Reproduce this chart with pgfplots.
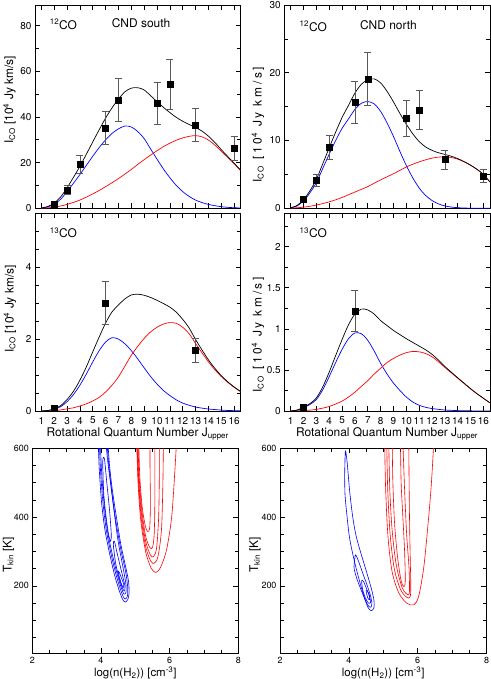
\documentclass[border=0pt]{standalone}
\usepackage{fontspec}
\setmainfont{TeX Gyre Heros}
\usepackage{pgfplots}
\usepackage{pgfplotstable}
\pgfplotsset{compat=1.18}

% ---------- model curves ----------
\pgfplotstableread{
J blue red black
1.0 0.1 0.05 0.15
1.5 0.6 0.2 0.8
2.0 1.8 0.5 2.3
2.5 4.0 1.0 5.0
3.0 7.3 1.7 9.0
3.5 11.0 2.6 13.6
4.0 14.8 3.6 18.4
4.5 18.8 4.9 23.7
5.0 22.8 6.3 29.1
5.5 26.6 7.8 34.4
6.0 30.0 9.5 39.5
6.5 32.8 11.2 44.0
7.0 34.8 13.0 47.8
7.5 36.0 15.0 51.0
8.0 35.6 17.0 52.6
8.5 33.6 19.2 52.8
9.0 30.5 21.3 51.8
9.5 26.0 23.3 49.3
10.0 21.5 25.2 46.7
10.5 17.2 27.0 44.2
11.0 13.4 28.5 41.9
11.5 10.0 29.8 39.8
12.0 7.3 30.8 38.1
12.5 5.2 31.5 36.7
13.0 3.6 31.8 35.4
13.5 2.5 31.3 33.8
14.0 1.7 29.9 31.6
14.5 1.15 27.7 28.85
15.0 0.7 25.0 25.7
15.5 0.42 22.3 22.72
16.0 0.25 19.5 19.75
16.5 0.15 16.6 16.75
}\curvesTL

\pgfplotstableread{
J blue red black
1.0 0.05 0.02 0.07
1.5 0.35 0.08 0.43
2.0 1.1 0.17 1.27
2.5 2.3 0.3 2.6
3.0 3.8 0.48 4.28
3.5 5.9 0.7 6.6
4.0 8.0 0.95 8.95
4.5 10.0 1.25 11.25
5.0 11.8 1.6 13.4
5.5 13.2 2.0 15.2
6.0 14.6 2.4 17.0
6.5 15.5 2.8 18.3
7.0 15.75 3.2 18.95
7.5 15.4 3.7 19.1
8.0 14.3 4.2 18.5
8.5 12.6 4.65 17.25
9.0 10.6 5.1 15.7
9.5 8.4 5.6 14.0
10.0 6.3 6.1 12.4
10.5 4.5 6.5 11.0
11.0 3.0 6.85 9.85
11.5 1.9 7.15 9.05
12.0 1.15 7.4 8.55
12.5 0.65 7.55 8.2
13.0 0.35 7.6 7.95
13.5 0.18 7.5 7.68
14.0 0.09 7.25 7.34
14.5 0.04 6.85 6.89
15.0 0.02 6.35 6.37
15.5 0.01 5.75 5.76
16.0 0.0 5.0 5.0
16.5 0.0 3.9 3.9
}\curvesTR

\pgfplotstableread{
J blue red black
1.0 0.0 0.0 0.0
1.5 0.01 0.005 0.015
2.0 0.05 0.01 0.06
2.5 0.12 0.03 0.15
3.0 0.26 0.06 0.32
3.5 0.46 0.09 0.55
4.0 0.72 0.14 0.86
4.5 1.03 0.2 1.23
5.0 1.37 0.28 1.65
5.5 1.68 0.38 2.06
6.0 1.92 0.53 2.45
6.5 2.04 0.72 2.76
7.0 2.0 0.95 2.95
7.5 1.87 1.25 3.12
8.0 1.68 1.55 3.23
8.5 1.45 1.8 3.25
9.0 1.2 2.02 3.22
9.5 0.96 2.2 3.16
10.0 0.75 2.33 3.08
10.5 0.57 2.42 2.99
11.0 0.43 2.46 2.89
11.5 0.31 2.44 2.75
12.0 0.22 2.33 2.55
12.5 0.16 2.15 2.31
13.0 0.11 1.88 1.99
13.5 0.08 1.62 1.70
14.0 0.055 1.37 1.425
14.5 0.04 1.15 1.19
15.0 0.025 0.96 0.985
15.5 0.015 0.8 0.815
16.0 0.01 0.66 0.67
16.5 0.005 0.54 0.545
}\curvesML

\pgfplotstableread{
J blue red black
1.0 0.0 0.0 0.0
1.5 0.01 0.002 0.012
2.0 0.04 0.005 0.045
2.5 0.08 0.01 0.09
3.0 0.14 0.02 0.16
3.5 0.26 0.035 0.295
4.0 0.42 0.055 0.475
4.5 0.59 0.085 0.675
5.0 0.75 0.12 0.87
5.5 0.88 0.17 1.05
6.0 0.95 0.23 1.18
6.5 0.94 0.3 1.24
7.0 0.86 0.37 1.23
7.5 0.73 0.45 1.18
8.0 0.58 0.52 1.10
8.5 0.45 0.59 1.04
9.0 0.34 0.64 0.98
9.5 0.25 0.68 0.93
10.0 0.17 0.71 0.88
10.5 0.11 0.725 0.835
11.0 0.07 0.72 0.79
11.5 0.045 0.7 0.745
12.0 0.03 0.66 0.69
12.5 0.02 0.6 0.62
13.0 0.012 0.53 0.542
13.5 0.008 0.465 0.473
14.0 0.005 0.4 0.405
14.5 0.003 0.335 0.338
15.0 0.002 0.27 0.272
15.5 0.001 0.21 0.211
16.0 0.0 0.155 0.155
16.5 0.0 0.1 0.1
}\curvesMR

% ---------- observed points ----------
\pgfplotstableread{
J v e
2 1.7 0.5
3 8.0 2.0
4 19.2 3.9
6 35.2 7.2
7 47.3 9.4
10 46.1 9.2
11 54.3 11.0
13 36.4 7.2
16 26.3 5.3
}\ptsTL

\pgfplotstableread{
J v e
2 1.4 0.35
3 4.15 0.85
4 9.0 1.75
6 15.6 3.1
7 19.1 3.95
10 13.3 2.7
11 14.5 2.9
13 7.2 1.4
16 4.8 1.0
}\ptsTR

\pgfplotstableread{
J v e
2 0.09 0.02
6 3.0 0.6
13 1.68 0.34
}\ptsML

\pgfplotstableread{
J v e
2 0.045 0.01
6 1.22 0.245
}\ptsMR

\definecolor{errgray}{gray}{0.35}

\pgfplotsset{
  panel/.style={
    scale only axis,
    anchor=south west,
    axis line style={line width=0.6bp},
    every tick/.style={black, line width=0.6bp},
    major tick length=5bp,
    minor tick length=3.5bp,
    tick align=inside,
    ticklabel style={font=\fontsize{10}{10}\selectfont},
    /pgf/number format/assume math mode=true,
    label style={font=\fontsize{12}{12}\selectfont},
  },
  jpanel/.style={
    panel,
    width=205.5bp,
    xmin=0.5, xmax=16.5,
    xtick={1,...,16},
    ymin=0,
  },
  curveB/.style={blue, line width=0.7bp, smooth, no markers},
  curveR/.style={red, line width=0.7bp, smooth, no markers},
  curveK/.style={black, line width=0.7bp, smooth, no markers},
  obs/.style={
    only marks, mark=square*, mark size=3bp, black,
    error bars/.cd, y dir=both, y explicit,
    error bar style={errgray, line width=0.7bp},
    error mark options={rotate=90, mark size=3.5bp, errgray, line width=0.7bp},
  },
  cpanel/.style={
    panel,
    xmin=2, xmax=8, ymin=4, ymax=600,
    xtick={2,4,6,8},
    minor xtick={2.5,3,3.5,4.5,5,5.5,6.5,7,7.5},
    ytick={200,400,600},
    minor ytick={50,100,150,250,300,350,450,500,550},
    ticklabel style={font=\fontsize{9}{9}\selectfont},
    xticklabel style={yshift=-0.5bp},
    xlabel={log(n(H\textsubscript{2})) [cm\textsuperscript{-3}]},
    xlabel style={font=\fontsize{11.5}{11.5}\selectfont, at={(axis description cs:0.5,0)}, anchor=center, yshift=-19.5bp},
    ylabel={T\textsubscript{kin} [K]},
  },
  contB/.style={blue, line width=0.6bp, smooth, no markers},
  contR/.style={red, line width=0.6bp, smooth, no markers},
}

\begin{document}
\begin{tikzpicture}
\path[use as bounding box] (0,0) rectangle (491bp,679bp);

% ================= top left: 12CO south =================
\begin{axis}[jpanel, at={(35bp,470.7bp)}, height=203.3bp,
  ymax=89, ytick={0,20,40,60,80}, minor ytick={10,30,50,70},
  xticklabels={},
  ylabel={I\textsubscript{CO} [10\textsuperscript{4} Jy km/s]},
  ylabel style={at={(axis description cs:-0.124,0.533)}, anchor=center},
]
\addplot[curveB] table[x=J,y=blue] {\curvesTL};
\addplot[curveR] table[x=J,y=red] {\curvesTL};
\addplot[curveK] table[x=J,y=black] {\curvesTL};
\addplot[obs] table[x=J,y=v,y error=e] {\ptsTL};
\node[anchor=west, font=\fontsize{12}{12}\selectfont] at (rel axis cs:0.055,0.905) {\textsuperscript{12}CO};
\node[anchor=center, font=\fontsize{12}{12}\selectfont] at (rel axis cs:0.516,0.91) {CND south};
\end{axis}

% ================= top right: 12CO north =================
\begin{axis}[jpanel, at={(284.3bp,470.7bp)}, height=203.3bp,
  ymax=30, ytick={0,10,20,30}, minor ytick={5,15,25},
  xticklabels={},
  ylabel={\addfontfeatures{LetterSpace=22}I\textsubscript{CO} [10\textsuperscript{4} Jy km/s]},
  ylabel style={at={(axis description cs:-0.128,0.41)}, anchor=center},
]
\addplot[curveB] table[x=J,y=blue] {\curvesTR};
\addplot[curveR] table[x=J,y=red] {\curvesTR};
\addplot[curveK] table[x=J,y=black] {\curvesTR};
\addplot[obs] table[x=J,y=v,y error=e] {\ptsTR};
\node[anchor=west, font=\fontsize{12}{12}\selectfont] at (rel axis cs:0.058,0.895) {\textsuperscript{12}CO};
\node[anchor=center, font=\fontsize{12}{12}\selectfont] at (rel axis cs:0.507,0.9) {CND north};
\end{axis}

% ================= middle left: 13CO south =================
\begin{axis}[jpanel, at={(35bp,268bp)}, height=198bp,
  ymax=5.51, ytick={0,2,4}, minor ytick={0.5,1,1.5,2.5,3,3.5,4.5,5},
  xticklabel style={yshift=-2.5bp},
  xlabel={Rotational Quantum Number J\textsubscript{upper}},
  xlabel style={at={(axis description cs:0.5,0)}, anchor=center, yshift=-23bp},
  ylabel={I\textsubscript{CO} [10\textsuperscript{4} Jy km/s]},
  ylabel style={at={(axis description cs:-0.122,0.515)}, anchor=center},
]
\addplot[curveB] table[x=J,y=blue] {\curvesML};
\addplot[curveR] table[x=J,y=red] {\curvesML};
\addplot[curveK] table[x=J,y=black] {\curvesML};
\addplot[obs] table[x=J,y=v,y error=e] {\ptsML};
\node[anchor=west, font=\fontsize{12}{12}\selectfont] at (rel axis cs:0.055,0.9) {\textsuperscript{13}CO};
\end{axis}

% ================= middle right: 13CO north =================
\begin{axis}[jpanel, at={(284.3bp,268bp)}, height=198bp,
  ymax=2.41, ytick={0,0.5,1,1.5,2}, minor ytick={0.25,0.75,1.25,1.75,2.25},
  xticklabel style={yshift=-2.5bp},
  xlabel={Rotational Quantum Number J\textsubscript{upper}},
  xlabel style={at={(axis description cs:0.5,0)}, anchor=center, yshift=-23bp},
  ylabel={\addfontfeatures{LetterSpace=22}I\textsubscript{CO} [10\textsuperscript{4} Jy km/s]},
  ylabel style={at={(axis description cs:-0.128,0.384)}, anchor=center},
]
\addplot[curveB] table[x=J,y=blue] {\curvesMR};
\addplot[curveR] table[x=J,y=red] {\curvesMR};
\addplot[curveK] table[x=J,y=black] {\curvesMR};
\addplot[obs] table[x=J,y=v,y error=e] {\ptsMR};
\node[anchor=west, font=\fontsize{12}{12}\selectfont] at (rel axis cs:0.058,0.9) {\textsuperscript{13}CO};
\end{axis}

% ================= bottom left: contours south =================
\begin{axis}[cpanel, at={(32.3bp,25.7bp)}, width=206bp, height=205bp,
  ylabel style={at={(axis description cs:-0.1155,0.48)}, anchor=center},
]
\addplot[contB] coordinates {(3.92,620) (3.95,540) (4.02,440) (4.12,360) (4.26,290) (4.40,230) (4.52,190) (4.62,163) (4.70,153) (4.78,160) (4.82,180) (4.80,215) (4.72,255) (4.58,320) (4.45,400) (4.33,480) (4.25,550) (4.20,620)};
\addplot[contB] coordinates {(3.95,620) (3.99,530) (4.06,440) (4.16,360) (4.30,290) (4.44,232) (4.56,192) (4.65,168) (4.71,162) (4.77,170) (4.78,195) (4.72,240) (4.58,305) (4.44,385) (4.32,470) (4.23,550) (4.17,620)};
\addplot[contB] coordinates {(3.98,620) (4.02,530) (4.09,440) (4.19,360) (4.33,292) (4.47,235) (4.59,195) (4.67,176) (4.73,182) (4.72,210) (4.62,265) (4.50,330) (4.39,410) (4.29,490) (4.20,560) (4.14,620)};
\addplot[contB] coordinates {(4.05,560) (4.08,470) (4.15,400) (4.22,350) (4.28,330) (4.30,350) (4.25,420) (4.17,500) (4.10,570) (4.05,560) (4.08,470)};
\addplot[contB] coordinates {(4.36,320) (4.42,270) (4.52,225) (4.62,195) (4.68,185) (4.70,198) (4.64,225) (4.55,262) (4.46,300) (4.39,330) (4.36,320) (4.42,270)};
\addplot[contB] coordinates {(4.50,240) (4.58,210) (4.65,195) (4.66,205) (4.60,222) (4.53,240) (4.50,240) (4.58,210)};
\addplot[contR] coordinates {(5.10,620) (5.13,520) (5.20,430) (5.29,375) (5.36,358) (5.42,370) (5.44,440) (5.43,530) (5.43,620)};
\addplot[contR] coordinates {(5.08,620) (5.11,520) (5.19,420) (5.30,345) (5.42,312) (5.50,312) (5.55,350) (5.57,450) (5.57,620)};
\addplot[contR] coordinates {(5.06,620) (5.10,510) (5.18,410) (5.30,330) (5.44,290) (5.53,285) (5.62,310) (5.68,400) (5.70,520) (5.70,620)};
\addplot[contR] coordinates {(5.05,620) (5.09,510) (5.17,400) (5.30,315) (5.45,272) (5.55,266) (5.66,285) (5.76,360) (5.80,480) (5.82,620)};
\addplot[contR] coordinates {(5.04,620) (5.08,500) (5.16,390) (5.30,300) (5.46,252) (5.60,239) (5.74,255) (5.91,305) (6.06,401) (6.16,547) (6.20,620)};
\end{axis}

% ================= bottom right: contours north =================
\begin{axis}[cpanel, at={(280bp,25.7bp)}, width=206.5bp, height=205bp,
  ylabel style={at={(axis description cs:-0.121,0.48)}, anchor=center},
]
\addplot[contB] coordinates {(3.90,592) (3.88,530) (3.89,465) (3.95,400) (4.02,340) (4.12,290) (4.22,248) (4.35,200) (4.47,160) (4.57,135) (4.66,128) (4.73,137) (4.73,158) (4.66,190) (4.54,232) (4.42,272) (4.30,312) (4.19,355) (4.10,410) (4.02,480) (3.95,560) (3.90,592) (3.88,530)};
\addplot[contB] coordinates {(4.19,290) (4.15,255) (4.22,225) (4.33,195) (4.45,165) (4.56,143) (4.64,138) (4.67,150) (4.62,175) (4.52,205) (4.40,238) (4.28,272) (4.19,290) (4.15,255)};
\addplot[contB] coordinates {(4.37,215) (4.40,190) (4.48,165) (4.57,150) (4.63,152) (4.60,170) (4.52,190) (4.43,212) (4.37,215) (4.40,190)};
\addplot[contB] coordinates {(4.50,185) (4.55,165) (4.60,160) (4.60,172) (4.54,185) (4.50,185) (4.55,165)};
\addplot[contR] coordinates {(5.26,620) (5.28,500) (5.33,380) (5.42,280) (5.52,215) (5.60,198) (5.64,215) (5.62,300) (5.57,400) (5.52,500) (5.50,620)};
\addplot[contR] coordinates {(5.16,620) (5.19,480) (5.26,360) (5.38,260) (5.55,195) (5.70,175) (5.76,182) (5.75,250) (5.68,350) (5.62,480) (5.57,620)};
\addplot[contR] coordinates {(5.10,620) (5.13,480) (5.20,350) (5.32,250) (5.50,190) (5.68,167) (5.78,168) (5.80,200) (5.78,300) (5.76,420) (5.74,620)};
\addplot[contR] coordinates {(5.04,620) (5.07,480) (5.14,340) (5.26,240) (5.45,180) (5.68,150) (5.89,145) (6.03,170) (6.18,256) (6.32,400) (6.40,500) (6.47,620)};
\end{axis}
\end{tikzpicture}
\end{document}
